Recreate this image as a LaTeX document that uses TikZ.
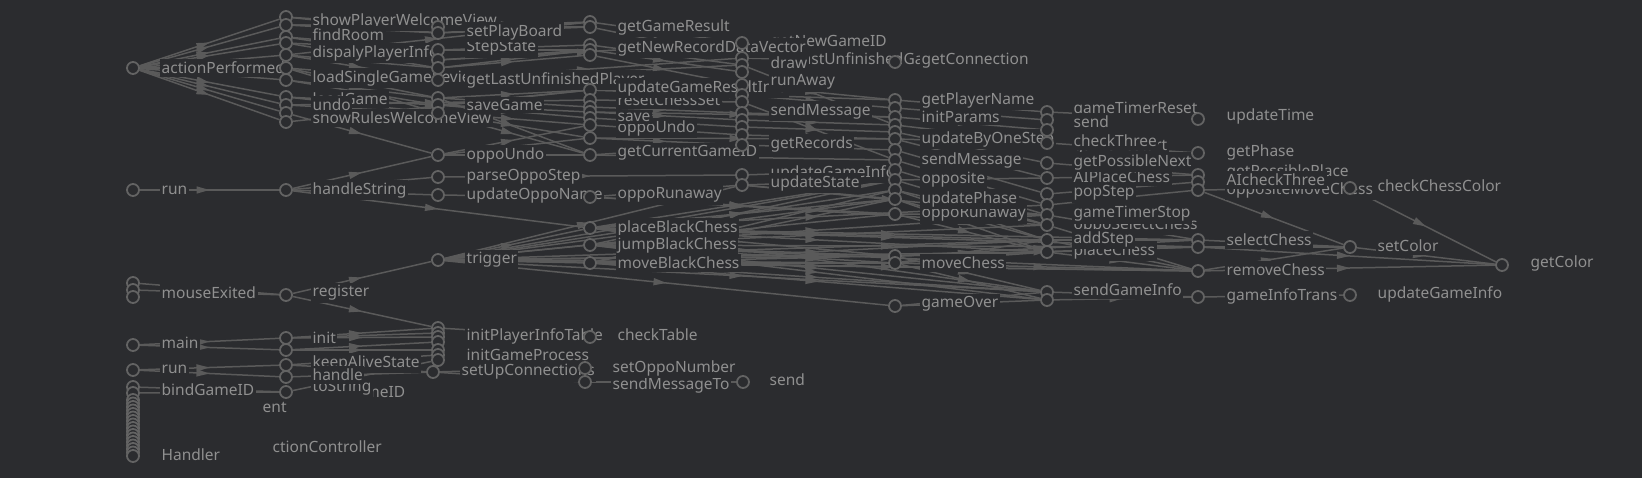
\documentclass[tikz,border=0pt]{standalone}
\usepackage{fontspec}
\setmainfont{Noto Sans}
\usetikzlibrary{arrows.meta,decorations.markings}
\pgfdeclarelayer{bgl}
\pgfdeclarelayer{edg}
\pgfdeclarelayer{hid}
\pgfdeclarelayer{lab}
\pgfsetlayers{bgl,edg,hid,lab,main}
\definecolor{bgcol}{HTML}{2B2C2F}
\definecolor{txtcol}{HTML}{909090}
\definecolor{edgecol}{HTML}{5A5A5A}
\definecolor{circcol}{HTML}{636363}
\newcommand\labfont{\fontsize{15.5}{18}\selectfont}
\begin{document}
\begin{tikzpicture}[x=1pt,y=-1pt,
  dot/.style={circle,draw=circcol,line width=1.8pt,fill=bgcol,minimum size=12pt,inner sep=0pt},
  lab/.style={anchor=west,text=txtcol,fill=bgcol,inner xsep=1.5pt,inner ysep=2.6pt,font=\labfont},
  call/.style={color=edgecol,line width=1.5pt,postaction={decorate},
    decoration={markings,mark=at position 0.5 with {\arrow{Triangle[length=13pt,width=7pt]}}}}]
\useasboundingbox (0,0) rectangle (1642,478);
\begin{pgfonlayer}{bgl}
\fill[bgcol] (0,0) rectangle (1642,478);
\end{pgfonlayer}

% ---------- circles ----------
\foreach \n/\y in {A1/68,A2/190,A3a/283,A3b/290,A3c/297,A4/345,A5/370,A6a/387,A6b/393}
  \node[dot] (\n) at (133,\y) {};
\foreach \i in {0,...,16}
  \node[dot] (H\i) at (133,{400+3.5*\i}) {};
\foreach \n/\y in {B1/17,B2/25,B3/37,B4/43,B5/55,B6/68,B7/80,B8/97,B9/105,B10/113,B11/122,B12/190,B13/295,B14/338,B15/350,B16/365,B17/377,B18/392}
  \node[dot] (\n) at (286,\y) {};
\foreach \n/\y in {C1/27,C2/33,C3/50,C4/60,C5/68,C6/80,C7/98,C8/105,C9/113,C10/155,C11/177,C12/195,C13/260,C14/328,C15/333,C16/337,C17/342,C18/350,C19/355,C20/360}
  \node[dot] (\n) at (438,\y) {};
\node[dot] (C21) at (433,372) {};
\foreach \n/\y in {D1/22,D2/27,D3/45,D4/50,D5/55,D6/90,D7/100,D8/107,D9/112,D10/118,D11/125,D12/138,D13/155,D14/197,D15/228,D16/245,D17/263,D18/337}
  \node[dot] (\n) at (590,\y) {};
\node[dot] (D19) at (585,368) {};
\node[dot] (D20) at (585,382) {};
\foreach \n/\y in {E1/43,E2/58,E3/65,E4/72,E5/85,E6/95,E7/102,E8/113,E9/120,E10/127,E11/135,E12/145,E13/175,E14/185}
  \node[dot] (\n) at (742,\y) {};
\node[dot] (E15) at (743,382) {};
\foreach \n/\y in {F1/62,F2/100,F3/108,F4/117,F5/125,F6/132,F7/139,F8/150,F9/160,F10/170,F11/180,F12/190,F13/199,F14/214,F15/256,F16/263,F17/306}
  \node[dot] (\n) at (895,\y) {};
\foreach \n/\y in {G1/112,G2/120,G3/130,G4/143,G5/163,G6/178,G7/194,G8/205,G9/215,G10/225,G11/240,G12/252,G13/292,G14/300}
  \node[dot] (\n) at (1047,\y) {};
\foreach \n/\y in {K1/119,K2/153,K3/175,K4/182,K5/190,K6/240,K7/247,K8/271,K9/297}
  \node[dot] (\n) at (1198,\y) {};
\foreach \n/\y in {L1/188,L2/247,L3/295}
  \node[dot] (\n) at (1350,\y) {};
\node[dot] (M1) at (1502,265) {};

% ---------- connectors ----------
\begin{pgfonlayer}{edg}
\foreach \s/\t in {A1/B1,A1/B2,A1/B3,A1/B4,A1/B5,A1/B6,A1/B7,A1/B8,A1/B9,A1/B10,A1/B11,
  A2/B12,A3a/B13,A3b/B13,A4/B14,A4/B15,A5/B16,A5/B17,A6a/B18,A6b/B18,
  B1/C1,B2/C2,B3/C3,B3/C4,B4/C5,B5/C6,B6/C7,B7/C8,B8/C9,B9/D7,B10/C10,B11/D6,B5/D1,B2/D2,B6/C9,B7/C7,
  B1/C2,B2/C1,B4/C3,B5/C5,B6/C6,B8/C8,B9/C9,
  B12/C10,B12/C11,B12/C12,B12/D15,B13/C13,B13/C14,
  B14/C14,B14/C15,B14/C16,B15/C17,B15/C18,B16/C19,B17/C21,B18/C20,B16/C21,
  C1/D1,C2/D2,C3/D3,C4/D4,C5/D5,C6/E2,C7/D6,C7/D8,C8/D9,C8/D10,C9/D11,C9/D12,C9/D13,C7/D13,C8/D6,C10/D11,C10/D13,C11/E13,C12/D14,C6/E3,C4/E1,
  C1/D2,C2/D1,C3/D4,C5/D4,C10/D12,
  C13/D15,C13/D16,C13/D17,C13/F15,C13/F16,C13/F17,C13/G11,C13/G12,C13/E14,C13/F12,C13/F14,C13/G13,
  C13/F13,C13/F11,C13/K8,
  C14/D18,C21/D19,C21/D20,D20/E15,
  D1/E1,D2/E2,D3/E3,D4/E4,D5/E5,D6/E6,D7/E7,D8/E8,D9/E9,D10/E10,D11/E11,D12/E12,D13/E12,D13/F9,D6/F2,D9/F4,D12/F7,
  D14/F14,D14/E14,D14/G10,
  D15/F11,D15/F13,D15/G11,D15/G12,D15/K6,D16/F15,D16/F16,D16/G9,D16/G10,D16/K7,D17/F16,D17/G13,D17/G14,D17/K8,D17/F12,D15/G8,D16/G13,D17/G11,
  D15/F15,D16/F11,D17/F13,D15/G13,D16/G14,D17/G12,D16/K8,D15/K7,
  E1/F1,E2/F1,E5/F2,E6/F3,E8/F4,E10/F6,E11/F7,E12/F8,E13/F10,E14/F11,E3/F5,E7/F9,E14/F13,E9/F5,E14/G9,
  F2/G1,F3/G2,F4/G3,F5/G4,F6/G5,F7/G6,F8/G7,F9/G8,F10/G9,F11/G10,F12/G11,F13/G12,F14/G12,F15/G13,F16/G14,F16/G11,F17/G13,F7/G4,F11/G6,F14/G9,F15/G12,
  F15/K6,F16/K8,F16/G12,F15/K7,F17/G14,F13/G11,F12/G10,
  G1/K1,G4/K2,G6/K3,G7/K4,G8/K5,G11/K6,G12/K7,G12/K8,G13/K9,G14/K9,G10/K8,G5/K3,G9/K6,G11/K8,
  K5/L1,K5/L2,K6/L2,K7/L2,K8/M1,K7/M1,K8/L2,K9/L3,L1/M1,L2/M1}
  \draw[call] (\s) -- (\t);
\end{pgfonlayer}

% ---------- partly hidden labels ----------
\begin{pgfonlayer}{hid}
\foreach \n/\x/\y/\t in {h1/311/21/showPlayerWelcomeView,h2/311/99/loadGame,h3/311/118/showRulesWelcomeView,
  h4/311/363/keepAliveState,h5/311/392/bindGameID,h6/311/388/toString,
  h7/465/48/StepState,h8/465/355/initGameProcess,
  h9/616/100/resetChessSet,h10/616/128/oppoUndo,h11/616/228/placeBlackChess,h12/611/385/sendMessageTo,
  h13/769/43/getNewGameID,h14/769/60/getLastUnfinishedGame,h15/769/173/updateGameInfo,
  h16/920/100/getPlayerName,h17/920/214/oppoRunaway,
  h18/1072/110/gameTimerReset,h19/1072/147/gameRestart,h20/1072/177/AIPlaceChess,h21/1072/193/popStep,
  h22/1072/225/oppoSelectChess,h23/1072/251/placeChess,
  h24/1225/172/getPossiblePlace,h25/1225/190/oppositeMoveChess}
  \node[lab] (\n) at (\x,\y) {\t};
\end{pgfonlayer}

% ---------- labels ----------
\begin{pgfonlayer}{lab}
\foreach \n/\x/\y/\t in {t1/160/68/actionPerformed,t2/160/190/run,t3/160/293/mouseExited,t4/160/343/main,
  t5/160/369/run,t6/160/390/bindGameID,t7/160/455/Handler,t8/271/447/ctionController,t9/261/407/ent,
  t10/311/35/findRoom,t11/311/53/dispalyPlayerInfo,t12/311/78/loadSingleGameReview,t13/311/105/undo,
  t14/311/190/handleString,t15/311/293/register,t16/311/338/init,t17/311/375/handle,
  t18/465/32/setPlayBoard,t19/465/80/getLastUnfinishedPlayer,t20/465/105/saveGame,t21/465/155/oppoUndo,
  t22/465/177/parseOppoStep,t23/465/195/updateOppoName,t24/465/260/trigger,t25/465/336/initPlayerInfoTable,
  t26/460/372/setUpConnections,
  t27/616/27/getGameResult,t28/616/48/getNewRecordDataVector,t29/616/88/updateGameResultInfo,t30/616/117/save,
  t31/616/153/getCurrentGameID,t32/616/195/oppoRunaway,t33/616/245/jumpBlackChess,t34/616/263/moveBlackChess,
  t35/616/335/checkTable,t36/611/368/setOppoNumber,
  t37/769/63/draw,t38/769/82/runAway,t39/769/111/sendMessage,t40/769/144/getRecords,t41/769/183/updateState,
  t42/768/380/send,
  t43/920/61/getConnection,t44/920/117/initParams,t45/920/139/updateByOneStep,t46/920/160/sendMessage,
  t47/920/180/opposite,t48/920/199/updatePhase,t49/920/263/moveChess,t50/920/304/gameOver,
  t51/1072/122/send,t52/1072/141/checkThree,t53/1072/162/getPossibleNext,t54/1072/214/gameTimerStop,
  t55/1072/239/addStep,t56/1072/290/sendGameInfo,
  t57/1225/116/updateTime,t58/1225/152/getPhase,t59/1225/180/AIcheckThree,t60/1225/240/selectChess,
  t61/1225/270/removeChess,t62/1225/296/gameInfoTrans,
  t63/1376/186/checkChessColor,t64/1376/246/setColor,t65/1376/294/updateGameInfo,t66/1529/263/getColor}
  \node[lab] (\n) at (\x,\y) {\t};
\end{pgfonlayer}
\end{tikzpicture}
\end{document}
